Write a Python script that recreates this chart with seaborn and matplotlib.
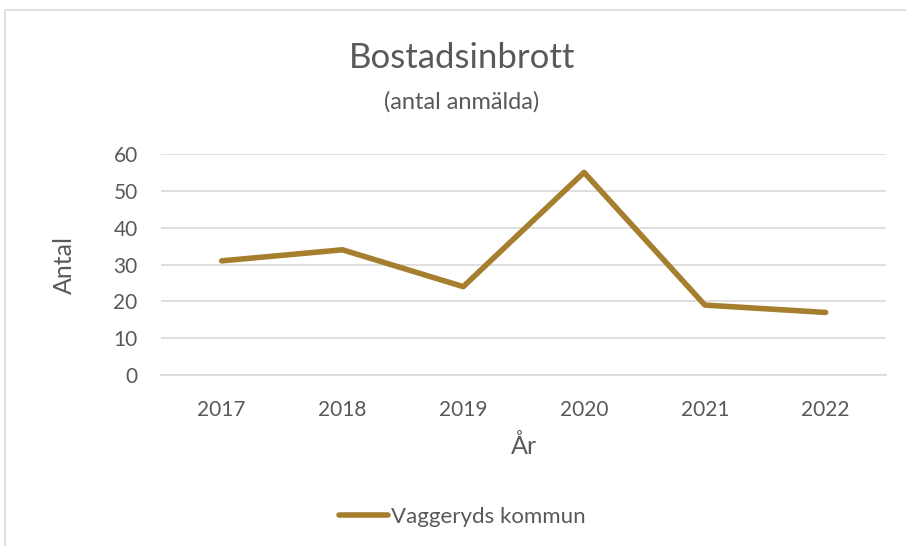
import matplotlib
matplotlib.use("Agg")
import matplotlib.pyplot as plt
import seaborn as sns
import pandas as pd
from matplotlib.patches import Rectangle

# Data
years = ["2017", "2018", "2019", "2020", "2021", "2022"]
burglaries = [31, 34, 24, 55, 19, 17]
series_name = "Vaggeryds kommun"

LINE_COLOR = "#A57F2E"
TEXT_COLOR = "#595959"
GRID_COLOR = "#D9D9D9"

sns.set_theme(style="white")
plt.rcParams['font.family'] = ['Lato', 'DejaVu Sans']

df = pd.DataFrame({"year": years, "count": burglaries, "series": series_name})

fig = plt.figure(figsize=(9.06, 5.46), dpi=100)
ax = fig.add_axes([0.178, 0.313, 0.800, 0.405])

sns.lineplot(data=df, x="year", y="count", hue="series", palette=[LINE_COLOR],
             linewidth=4, ax=ax, sort=False, legend=False)

ax.set_ylim(0, 60)
ax.set_yticks(range(0, 61, 10))
ax.set_xlim(-0.5, len(years) - 0.5)
ax.yaxis.grid(True, color=GRID_COLOR, linewidth=1.2)
ax.set_axisbelow(True)
for side in ["top", "right", "left"]:
    ax.spines[side].set_visible(False)
ax.spines["bottom"].set_color(GRID_COLOR)
ax.spines["bottom"].set_linewidth(1.2)
ax.tick_params(axis="both", colors=TEXT_COLOR, labelsize=15, length=0)
ax.tick_params(axis="x", pad=18)
ax.tick_params(axis="y", pad=17)

ax.set_xlabel("År", fontsize=18, color=TEXT_COLOR, labelpad=10)
ax.set_ylabel("Antal", fontsize=18, color=TEXT_COLOR, labelpad=27)

fig.text(0.51, 0.893, "Bostadsinbrott", ha="center", va="center", fontsize=25, color=TEXT_COLOR)
fig.text(0.51, 0.813, "(antal anmälda)", ha="center", va="center", fontsize=17, color=TEXT_COLOR)

# legend below chart
handle = plt.Line2D([], [], color=LINE_COLOR, linewidth=4, solid_capstyle="round")
fig.legend([handle], [series_name], loc="center", bbox_to_anchor=(0.51, 0.053),
           frameon=False, fontsize=16, labelcolor=TEXT_COLOR, handlelength=2.2,
           handletextpad=0.15)

# chart frame (only top/left visible in the crop)
fig.patches.append(Rectangle((5 / 906, -0.1), 1.2, 1.1 - 10 / 546,
                             transform=fig.transFigure, fill=False,
                             edgecolor=GRID_COLOR, linewidth=1.2))

fig.savefig("out.png", dpi=100)
plt.close(fig)
